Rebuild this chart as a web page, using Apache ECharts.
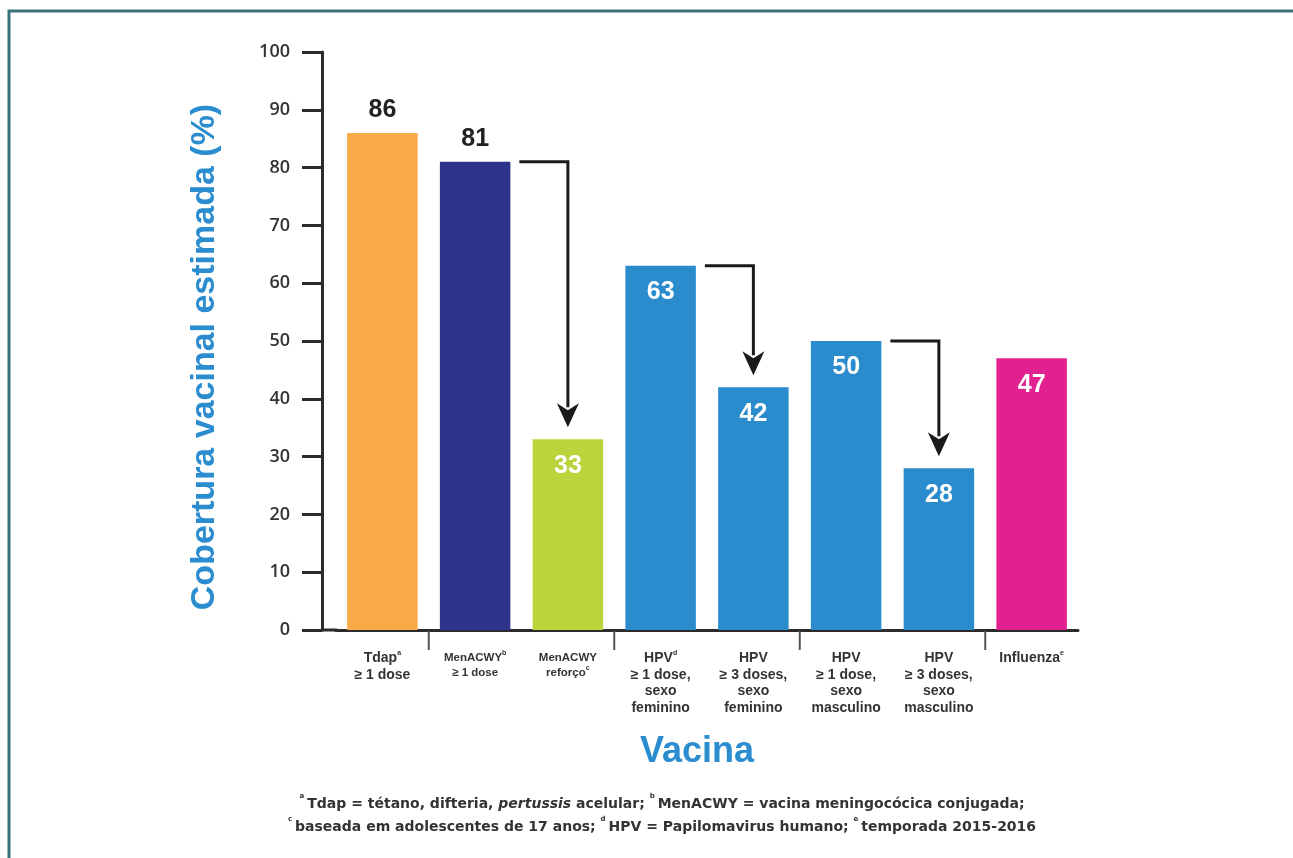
<!DOCTYPE html>
<html>
<head>
<meta charset="utf-8">
<script src="https://cdn.jsdelivr.net/npm/echarts@6/dist/echarts.min.js"></script>
<style>
html,body{margin:0;padding:0;background:#fff;}
#chart{width:1293px;height:858px;}
</style>
</head>
<body>
<div id="chart"></div>
<script>
// ---- data ----
var categories = [
  '{b|Tdap}{sup|a}\n{b|≥ 1 dose}',
  '{s|MenACWY}{sup|b}\n{s|≥ 1 dose}',
  '{s|MenACWY}\n{s|reforço}{sup|c}',
  '{b|HPV}{sup|d}\n{b|≥ 1 dose,}\n{b|sexo}\n{b|feminino}',
  '{b|HPV}\n{b|≥ 3 doses,}\n{b|sexo}\n{b|feminino}',
  '{b|HPV}\n{b|≥ 1 dose,}\n{b|sexo}\n{b|masculino}',
  '{b|HPV}\n{b|≥ 3 doses,}\n{b|sexo}\n{b|masculino}',
  '{b|Influenza}{sup|e}'
];
var coverage = [86, 81, 33, 63, 42, 50, 28, 47];
var barColors = ['#F7AA47', '#2E348C', '#BAD43C', '#2A8CCD', '#2A8CCD', '#2A8CCD', '#2A8CCD', '#E2208E'];
var arrowFrom = [1, 3, 5];
var arrowTo = [2, 4, 6];
var groupStarts = [1, 3, 5, 7];
var yTicks = [0, 10, 20, 30, 40, 50, 60, 70, 80, 90, 100];

var blue = '#2B8DD0';
var dark = '#2b2b2b';
var narrow = "'Liberation Sans Narrow','Arial Narrow','Liberation Sans',sans-serif";
var BAR_RATIO = 0.76;

var chart = echarts.init(document.getElementById('chart'));

var barData = coverage.map(function (v, i) {
  var outside = i < 2;
  return {
    value: v,
    itemStyle: { color: barColors[i] },
    label: {
      show: true,
      position: outside ? 'top' : 'insideTop',
      distance: outside ? 10 : 14,
      color: outside ? '#222' : '#fff',
      fontFamily: narrow,
      fontWeight: 'bold',
      fontSize: 25
    }
  };
});

var arrowData = arrowFrom.map(function (f, i) { return [f, arrowTo[i]]; });
var sepData = groupStarts.map(function (g) { return [g, 0]; });

var option = {
  animation: false,
  backgroundColor: '#fff',
  grid: { left: 336, right: 215, top: 52, bottom: 228, containLabel: false },
  xAxis: {
    type: 'category',
    data: categories,
    axisLine: { lineStyle: { color: dark, width: 3 } },
    axisTick: { show: false },
    axisLabel: {
      interval: 0,
      margin: 20,
      color: '#333',
      align: 'center',
      rich: {
        b: { fontSize: 14, fontWeight: 'bold', color: '#333', fontFamily: "'Liberation Sans',Arial,sans-serif", lineHeight: 16.5, align: 'center' },
        s: { fontSize: 11.5, fontWeight: 'bold', color: '#333', fontFamily: "'Liberation Sans',Arial,sans-serif", lineHeight: 15, align: 'center' },
        sup: { fontSize: 7, fontWeight: 'bold', color: '#333', verticalAlign: 'top', lineHeight: 15 }
      }
    }
  },
  yAxis: {
    type: 'value',
    min: 0, max: 100, interval: 10,
    offset: 14,
    axisLine: { show: true, lineStyle: { color: dark, width: 3 } },
    axisTick: { show: true, length: 20, lineStyle: { color: dark, width: 3 } },
    splitLine: { show: false },
    axisLabel: {
      margin: 32,
      fontSize: 18,
      color: '#333',
      fontFamily: "'Open Sans','Liberation Sans',sans-serif",
      fontWeight: 600,
      customValues: yTicks
    }
  },
  series: [
    {
      type: 'bar',
      data: barData,
      barWidth: (BAR_RATIO * 100) + '%'
    },
    {
      type: 'custom',
      data: arrowData,
      encode: { x: 0, y: 1 },
      z: 5,
      renderItem: function (params, api) {
        var f = api.value(0), t = api.value(1);
        var p1 = api.coord([f, coverage[f]]);
        var p2 = api.coord([t, coverage[t]]);
        var bw = api.size([1, 0])[0] * BAR_RATIO;
        var x0 = p1[0] + bw / 2 + 9;
        var y0 = p1[1];
        var xc = p2[0];
        var tipY = p2[1] - 12;
        var headLen = 24, headHalf = 11;
        return {
          type: 'group',
          children: [
            {
              type: 'polyline',
              shape: { points: [[x0, y0], [xc, y0], [xc, tipY - headLen + 4]] },
              style: { stroke: '#1a1a1a', lineWidth: 3, fill: null, lineJoin: 'miter' }
            },
            {
              type: 'polygon',
              shape: { points: [[xc, tipY], [xc - headHalf, tipY - headLen], [xc, tipY - headLen + 7], [xc + headHalf, tipY - headLen]] },
              style: { fill: '#1a1a1a' }
            }
          ]
        };
      }
    },
    {
      // group separator ticks on the category axis
      type: 'custom',
      data: sepData,
      encode: { x: 0, y: 1 },
      z: 4,
      renderItem: function (params, api) {
        var idx = api.value(0);
        var p = api.coord([idx, 0]);
        var half = api.size([1, 0])[0] / 2;
        var x = p[0] - half;
        return {
          type: 'line',
          shape: { x1: x, y1: p[1] + 1, x2: x, y2: p[1] + 20 },
          style: { stroke: '#555', lineWidth: 2 }
        };
      }
    }
  ],
  graphic: [
    // frame (top and left edges)
    { type: 'polyline', shape: { points: [[9, 858], [9, 11], [1293, 11]] }, style: { stroke: '#3A727B', lineWidth: 3, fill: null } },
    // x-axis extension to y-axis line
    { type: 'line', shape: { x1: 321, y1: 630, x2: 337, y2: 630 }, style: { stroke: dark, lineWidth: 3 } },
    {
      type: 'text', x: 205, y: 357, rotation: Math.PI / 2,
      style: { text: 'Cobertura vacinal estimada (%)', fill: blue, font: "bold 34px 'Liberation Sans', Arial, sans-serif", align: 'center', verticalAlign: 'middle' }
    },
    {
      type: 'text', x: 697, y: 752,
      style: { text: 'Vacina', fill: blue, font: "bold 36px 'Liberation Sans', Arial, sans-serif", align: 'center', verticalAlign: 'middle' }
    },
    {
      type: 'text', x: 662, y: 816,
      style: {
        text: '{sup|a}{n|Tdap = tétano, difteria, }{i|pertussis}{n| acelular; }{sup|b}{n|MenACWY = vacina meningocócica conjugada;}\n{sup|c}{n|baseada em adolescentes de 17 anos; }{sup|d}{n|HPV = Papilomavirus humano; }{sup|e}{n|temporada 2015-2016}',
        align: 'center', verticalAlign: 'middle',
        rich: {
          n: { fontSize: 14, fontWeight: 'bold', fill: '#333', fontFamily: "'DejaVu Sans',sans-serif", lineHeight: 23 },
          i: { fontSize: 14, fontWeight: 'bold', fontStyle: 'italic', fill: '#333', fontFamily: "'DejaVu Sans',sans-serif", lineHeight: 23 },
          sup: { fontSize: 7, fontWeight: 'bold', fill: '#333', fontFamily: "'DejaVu Sans',sans-serif", verticalAlign: 'top', lineHeight: 19, padding: [0, 3, 0, 0] }
        }
      }
    }
  ]
};

chart.setOption(option);
</script>
</body>
</html>
